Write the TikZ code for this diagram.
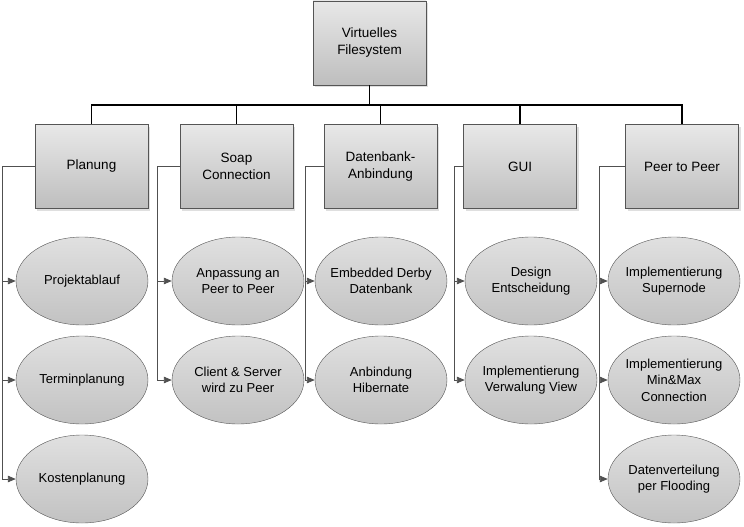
\documentclass[tikz,border=0pt]{standalone}
\usepackage{fontspec}
\setmainfont{Liberation Sans}
\definecolor{BoxTop}{RGB}{232,232,232}
\definecolor{BoxBottom}{RGB}{190,190,190}
\definecolor{EllTop}{RGB}{224,224,224}
\definecolor{EllBottom}{RGB}{194,194,194}
\definecolor{EdgeGray}{RGB}{85,85,85}
\definecolor{LinkGray}{RGB}{80,80,80}
\usetikzlibrary{arrows.meta, shapes.geometric, shadows, positioning}

\begin{document}
\begin{tikzpicture}[x=1pt, y=-1pt,
    topic/.style={draw=EdgeGray, top color=BoxTop, bottom color=BoxBottom,
                  minimum width=113pt, minimum height=84pt, inner sep=0pt,
                  align=center, font=\fontsize{13.5}{17}\selectfont,
                  drop shadow={opacity=0.25, shadow xshift=2pt, shadow yshift=-2pt}},
    task/.style={ellipse, draw=EdgeGray, top color=EllTop, bottom color=EllBottom,
                 minimum width=132pt, minimum height=88pt,
                 inner xsep=-8pt, inner ysep=0pt,
                 align=center, font=\fontsize{13}{16.5}\selectfont},
    bus/.style={draw=black, line width=1.8pt},
    link/.style={draw=LinkGray, line width=0.9pt,
                 -{Triangle[length=8pt,width=6.5pt]}}]
  \useasboundingbox (0,0) rectangle (744,527);

  % root and work packages
  \node[topic] (root) at (369.5,43) {Virtuelles\\Filesystem};
  \node[topic] (plan) at (91.5,166.5) {Planung};
  \node[topic] (soap) at (236.5,166.5) {Soap\\Connection};
  \node[topic] (db)   at (380.5,166.5) {Datenbank-\\Anbindung};
  \node[topic] (gui)  at (520,166.5) {GUI};
  \node[topic] (ptp)  at (682,166.5) {Peer to Peer};

  % tasks
  \node[task] (plan1) at (82,281) {Projektablauf};
  \node[task] (plan2) at (82,380) {Terminplanung};
  \node[task] (plan3) at (82,479) {Kostenplanung};
  \node[task] (soap1) at (238,281) {Anpassung an\\Peer to Peer};
  \node[task] (soap2) at (238,380) {Client \& Server\\wird zu Peer};
  \node[task] (db1)   at (381,281) {Embedded Derby\\Datenbank};
  \node[task] (db2)   at (381,380) {Anbindung\\Hibernate};
  \node[task] (gui1)  at (531,281) {Design\\Entscheidung};
  \node[task] (gui2)  at (531,380) {Implementierung\\Verwalung View};
  \node[task] (ptp1)  at (674,281) {Implementierung\\Supernode};
  \node[task] (ptp2)  at (674,380) {Implementierung\\Min\&Max\\Connection};
  \node[task] (ptp3)  at (674,479) {Datenverteilung\\per Flooding};

  % tree lines
  \coordinate (split) at (369.5,105);
  \draw[bus] (root.south) -- (split);
  \foreach \n in {plan, soap, db, gui, ptp}
    \draw[bus] (split) -| (\n.north);

  % side brackets
  \coordinate (planx) at (2,166.5);
  \coordinate (soapx) at (157,166.5);
  \coordinate (dbx)   at (305,166.5);
  \coordinate (guix)  at (454,166.5);
  \coordinate (ptpx)  at (599,166.5);
  \foreach \n in {plan1, plan2, plan3}
    \draw[link] (plan.west) -- (planx) |- (\n.west);
  \foreach \n in {soap1, soap2}
    \draw[link] (soap.west) -- (soapx) |- (\n.west);
  \foreach \n in {db1, db2}
    \draw[link] (db.west) -- (dbx) |- (\n.west);
  \foreach \n in {gui1, gui2}
    \draw[link] (gui.west) -- (guix) |- (\n.west);
  \foreach \n in {ptp1, ptp2, ptp3}
    \draw[link] (ptp.west) -- (ptpx) |- (\n.west);
\end{tikzpicture}
\end{document}
